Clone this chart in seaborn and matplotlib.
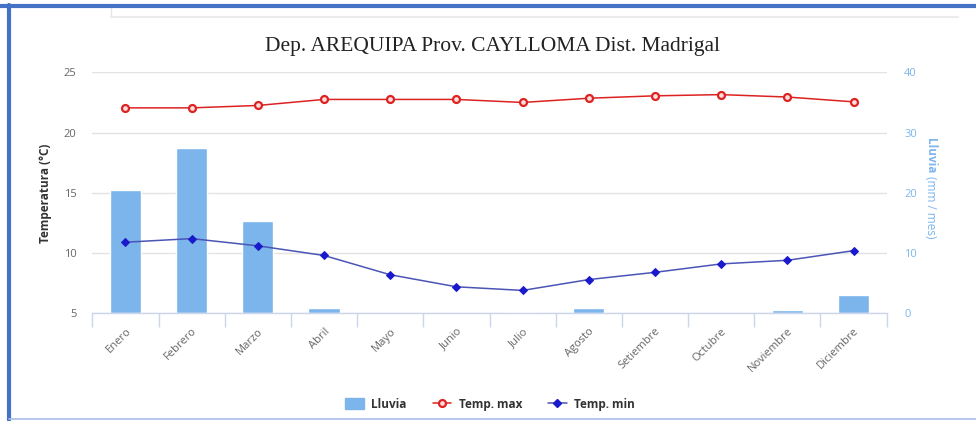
import matplotlib
matplotlib.use("Agg")
import matplotlib.pyplot as plt
import seaborn as sns
import pandas as pd
from matplotlib.lines import Line2D
from matplotlib.patches import Patch

meses = ["Enero", "Febrero", "Marzo", "Abril", "Mayo", "Junio", "Julio",
         "Agosto", "Setiembre", "Octubre", "Noviembre", "Diciembre"]
lluvia = [20.4, 27.4, 15.4, 0.8, 0.0, 0.0, 0.2, 0.8, 0.0, 0.0, 0.6, 3.0]
temp_max = [22.05, 22.05, 22.25, 22.75, 22.75, 22.75, 22.5, 22.85, 23.05, 23.15, 22.95, 22.55]
temp_min = [10.9, 11.2, 10.6, 9.8, 8.2, 7.2, 6.9, 7.8, 8.4, 9.1, 9.4, 10.2]
temp_ticks = [5, 10, 15, 20, 25]
lluvia_ticks = [0, 10, 20, 30, 40]

df = pd.DataFrame({"mes": meses, "lluvia": lluvia, "tmax": temp_max, "tmin": temp_min})

sns.set_theme(style="white")
plt.rcParams["font.family"] = ["Open Sans", "DejaVu Sans"]

fig = plt.figure(figsize=(9.76, 4.21), dpi=100)
ax = fig.add_axes([0.0946, 0.2558, 0.8139, 0.5724])
ax2 = ax.twinx()

BAR = "#7cb5ec"
RED = "#dd2222"
BLUE = "#1a1acc"
GRID = "#e3e3e3"
AXC = "#ccd6eb"

# rain bars on right axis (behind)
sns.barplot(data=df, x="mes", y="lluvia", ax=ax2, color=BAR, width=0.47,
            saturation=1, order=meses, zorder=2)
ax2.set_ylim(0, 40)
ax2.set_yticks(lluvia_ticks)
ax2.grid(axis="y", color=GRID, lw=1, zorder=0)
ax2.set_axisbelow(True)

# temperature lines on left axis (front)
ax.set_zorder(ax2.get_zorder() + 1)
ax.patch.set_visible(False)
sns.lineplot(data=df, x="mes", y="tmax", ax=ax, color=RED, lw=1.1, sort=False,
             marker="o", markersize=5, markerfacecolor="#ffdddd",
             markeredgecolor=RED, markeredgewidth=1.6)
sns.lineplot(data=df, x="mes", y="tmin", ax=ax, color="#4a55b5", lw=1.1, sort=False,
             marker="D", markersize=4.5, markerfacecolor=BLUE,
             markeredgecolor=BLUE)
ax.set_ylim(5, 25)
ax.set_yticks(temp_ticks)
ax.set_xlim(-0.5, len(meses) - 0.5)
ax2.set_xlim(-0.5, len(meses) - 0.5)

# spines
for a in (ax, ax2):
    for s in a.spines.values():
        s.set_visible(False)
ax2.spines["bottom"].set_visible(True)
ax2.spines["bottom"].set_color(AXC)
ax2.spines["bottom"].set_linewidth(1)

# x ticks: labels at centers, tick marks at boundaries
ax.set_xticks(range(len(meses)))
ax.set_xticklabels(meses, rotation=45, ha="right", rotation_mode="anchor",
                   fontsize=8, color="#666666")
ax.tick_params(axis="x", which="major", length=0, pad=9)
ax.set_xticks([i - 0.5 for i in range(len(meses) + 1)], minor=True)
ax.tick_params(axis="x", which="minor", length=10, width=1, color=AXC, bottom=True)
ax2.tick_params(axis="x", bottom=False, labelbottom=False)

ax.tick_params(axis="y", length=0, labelsize=8, labelcolor="#666666", pad=11.5)
ax2.tick_params(axis="y", length=0, labelsize=8, labelcolor="#7cb5ec", pad=12.5)

ax.set_xlabel("")
ax.set_ylabel("Temperatura (°C)", fontsize=8.5, color="#333333", fontweight="bold")
ax.yaxis.set_label_coords(-0.051, 0.5)
ax2.set_ylabel("")
fig.text(0.953, 0.589, "Lluvia", rotation=270, fontsize=8.5, color="#7cb5ec",
         fontweight="bold", ha="center", va="bottom")
fig.text(0.953, 0.589, " (mm / mes)", rotation=270, fontsize=8.5, color="#7cb5ec",
         ha="center", va="top")

fig.text(0.505, 0.89, "Dep. AREQUIPA Prov. CAYLLOMA Dist. Madrigal",
         family="Liberation Serif", fontsize=15.5, color="#222222", ha="center", va="center")

handles = [
    Patch(facecolor=BAR, edgecolor=BAR),
    Line2D([0], [0], color=RED, lw=1.1, marker="o", markersize=5,
           markerfacecolor="#ffdddd", markeredgecolor=RED, markeredgewidth=1.6),
    Line2D([0], [0], color="#4a55b5", lw=1.1, marker="D", markersize=4.5,
           markerfacecolor=BLUE, markeredgecolor=BLUE),
]
leg = fig.legend(handles, ["Lluvia", "Temp. max", "Temp. min"], loc="center",
                 bbox_to_anchor=(0.502, 0.04), ncol=3, frameon=False,
                 prop={"size": 8.5, "weight": "bold"}, handlelength=1.6,
                 handleheight=1.0, columnspacing=2.2, handletextpad=0.6)
for t in leg.get_texts():
    t.set_color("#333333")

# screenshot frame
W, H = 976, 421
def fx(x): return x / W
def fy(y): return 1 - y / H
fig.add_artist(Line2D([fx(111), fx(111)], [fy(4), fy(17)], color="#e6e6e6", lw=1))
fig.add_artist(Line2D([fx(111), fx(958)], [fy(17), fy(17)], color="#ebebeb", lw=1.5))
fig.add_artist(Line2D([0, 1], [fy(6), fy(6)], color="#4472c4", lw=3))
fig.add_artist(Line2D([fx(9), fx(9)], [fy(5), fy(420)], color="#4472c4", lw=3))
fig.add_artist(Line2D([fx(9), 1], [fy(419), fy(419)], color="#a8bfe6", lw=1.2))

fig.savefig("out.png", dpi=100)
